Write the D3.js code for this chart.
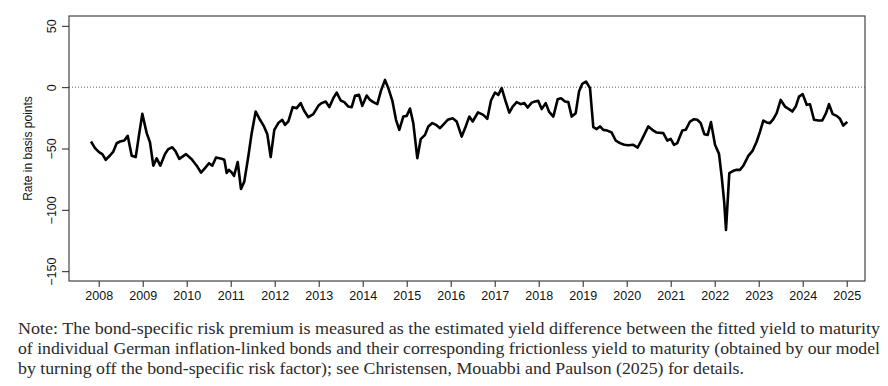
<!DOCTYPE html>
<html>
<head>
<meta charset="utf-8">
<script src="https://cdn.jsdelivr.net/npm/d3@7"></script>
<style>
  body { margin: 0; background: #fff; }
  svg { display: block; }
</style>
</head>
<body>
<svg width="888" height="386"></svg>
<script>
// month (decimal year) and bond-specific risk premium, in basis points
var months = [
  2007.825, 2007.916, 2008.007, 2008.082, 2008.159, 2008.257, 2008.332, 2008.409, 2008.484, 2008.582,
  2008.659, 2008.75, 2008.841, 2008.923, 2008.991, 2009.091, 2009.166, 2009.241, 2009.318, 2009.4,
  2009.507, 2009.582, 2009.673, 2009.75, 2009.832, 2009.984, 2010.114, 2010.227, 2010.325, 2010.416,
  2010.507, 2010.582, 2010.666, 2010.795, 2010.855, 2010.909, 2010.961, 2011.023, 2011.075, 2011.159,
  2011.234, 2011.309, 2011.4, 2011.477, 2011.568, 2011.666, 2011.757, 2011.832, 2011.909, 2011.991,
  2012.082, 2012.173, 2012.234, 2012.309, 2012.409, 2012.5, 2012.591, 2012.666, 2012.764, 2012.877,
  2012.991, 2013.068, 2013.159, 2013.241, 2013.332, 2013.409, 2013.5, 2013.582, 2013.673, 2013.75,
  2013.825, 2013.916, 2013.991, 2014.091, 2014.166, 2014.241, 2014.332, 2014.416, 2014.507, 2014.582,
  2014.673, 2014.757, 2014.832, 2014.923, 2015.0, 2015.075, 2015.15, 2015.241, 2015.318, 2015.416,
  2015.491, 2015.582, 2015.666, 2015.757, 2015.848, 2015.932, 2016.045, 2016.136, 2016.25, 2016.341,
  2016.423, 2016.5, 2016.62, 2016.741, 2016.832, 2016.916, 2017.007, 2017.082, 2017.159, 2017.25,
  2017.332, 2017.409, 2017.5, 2017.591, 2017.673, 2017.75, 2017.841, 2017.916, 2017.991, 2018.068,
  2018.159, 2018.234, 2018.332, 2018.432, 2018.507, 2018.598, 2018.673, 2018.75, 2018.841, 2018.916,
  2018.991, 2019.075, 2019.166, 2019.241, 2019.318, 2019.393, 2019.468, 2019.559, 2019.659, 2019.75,
  2019.848, 2019.945, 2020.036, 2020.15, 2020.25, 2020.341, 2020.491, 2020.582, 2020.682, 2020.832,
  2020.923, 2021.0, 2021.075, 2021.15, 2021.264, 2021.341, 2021.439, 2021.53, 2021.605, 2021.682,
  2021.764, 2021.841, 2021.916, 2022.007, 2022.098, 2022.159, 2022.218, 2022.257, 2022.332, 2022.423,
  2022.5, 2022.575, 2022.65, 2022.764, 2022.864, 2022.955, 2023.03, 2023.105, 2023.182, 2023.257,
  2023.332, 2023.409, 2023.5, 2023.598, 2023.689, 2023.764, 2023.841, 2023.916, 2024.0, 2024.091,
  2024.166, 2024.257, 2024.355, 2024.445, 2024.53, 2024.598, 2024.682, 2024.773, 2024.848, 2024.923,
  2025.014
];
var premium = [
  -44.3, -49.7, -53, -54.6, -59.2, -55.7, -52.5, -45.7, -44.3, -43.5,
  -39.7, -56, -57, -37.5, -21.8, -37.5, -45, -64, -58, -64,
  -54.4, -50.5, -49, -52.5, -58.5, -54.6, -58.7, -64, -69.6, -66,
  -62, -64, -57.4, -58.4, -59.2, -70, -67.4, -69.6, -72.3, -61,
  -83, -77, -56.5, -37.5, -19.9, -26.6, -32, -38.3, -57, -34.8,
  -29.3, -26.6, -30.7, -28, -16.3, -17.1, -13, -19, -24.5, -22,
  -15.2, -13, -11.7, -16.3, -9, -4.4, -10.9, -12.2, -15.8, -16.3,
  -7.1, -6.3, -15.2, -6.8, -10.4, -12.2, -13.9, -2.8, 5.9, -0.8,
  -10.9, -26.6, -34.8, -24, -23.4, -17.4, -29.3, -57.9, -42.4, -38.9,
  -32, -29.3, -30.7, -33.4, -29.9, -26.6, -25.3, -28, -40.3, -32,
  -24, -28, -20.5, -22.6, -25.8, -10.9, -4.4, -6.3, -0.8, -11.7,
  -20.7, -15.8, -12.2, -13.9, -13, -16.6, -12.6, -11.7, -11.2, -17.9,
  -13, -19.9, -24, -9.8, -9, -11.7, -12.2, -24, -21.2, -3.6,
  2.7, 4.6, -0.8, -32.6, -34.2, -32, -34.8, -35.4, -37, -43.5,
  -45.6, -47, -47.3, -47, -49.2, -43, -32, -34.8, -37, -37.5,
  -43.5, -42.1, -47, -45.6, -35.4, -34.8, -28, -26.1, -26.6, -29.3,
  -38.3, -38.9, -28.5, -47, -54.4, -72.9, -94.5, -116.3, -70.1, -68.2,
  -67.4, -67.4, -64.1, -56, -51.7, -44.3, -36.2, -27.2, -28.8, -29.3,
  -26.1, -21.2, -10.4, -15.8, -17.9, -19.9, -15.8, -7.7, -5.7, -14.4,
  -13.9, -26.6, -27.2, -27.2, -21.2, -13.9, -22, -23.4, -25.8, -31.3,
  -28.3
];
var yearTicks = d3.range(2008, 2026);
var yTicks = [-150, -100, -50, 0, 50];
var noteLines = [
  "Note: The bond-specific risk premium is measured as the estimated yield difference between the fitted yield to maturity",
  "of individual German inflation-linked bonds and their corresponding frictionless yield to maturity (obtained by our model",
  "by turning off the bond-specific risk factor); see Christensen, Mouabbi and Paulson (2025) for details."
];
var noteWidths = [862, 862, 726];

var margin = {top: 16, left: 69},
    width = 796,
    height = 265;

var svg = d3.select('svg');
var g = svg.append('g').attr('transform', 'translate(' + margin.left + ',' + margin.top + ')');

var x = d3.scaleLinear().domain([2007.325, 2025.416]).range([0, width]);
var y = d3.scaleLinear().domain([-158, 58]).range([height, 0]);

var fmt = function(d) { return d < 0 ? '\u2212' + Math.abs(d) : String(d); };

// zero reference line
g.append('line')
  .attr('x1', 0).attr('x2', width)
  .attr('y1', y(0)).attr('y2', y(0))
  .attr('stroke', '#333').attr('stroke-width', 0.8)
  .attr('stroke-dasharray', '1,2');

// series
var line = d3.line()
  .x(function(d, i) { return x(months[i]); })
  .y(function(d) { return y(d); });

g.append('path')
  .datum(premium)
  .attr('d', line)
  .attr('fill', 'none')
  .attr('stroke', '#000')
  .attr('stroke-width', 2.6)
  .attr('stroke-linejoin', 'round');

// box
g.append('rect')
  .attr('x', 0).attr('y', 0).attr('width', width).attr('height', height)
  .attr('fill', 'none').attr('stroke', '#444').attr('stroke-width', 1.2);

// x axis
var xAxis = g.append('g')
  .attr('transform', 'translate(0,' + height + ')')
  .call(d3.axisBottom(x).tickValues(yearTicks).tickFormat(d3.format('d')).tickSize(6).tickPadding(4));
xAxis.select('.domain').remove();
xAxis.selectAll('text').attr('font-family', 'Liberation Sans, Arial, sans-serif').attr('font-size', 12.5).attr('fill', '#111');
xAxis.selectAll('line').attr('stroke', '#222');

// y axis
var yAxis = g.append('g')
  .call(d3.axisLeft(y).tickValues(yTicks).tickFormat(fmt).tickSize(7));
yAxis.select('.domain').remove();
yAxis.selectAll('line').attr('stroke', '#222');
yAxis.selectAll('text')
  .attr('x', null).attr('dy', null)
  .attr('text-anchor', 'middle')
  .attr('transform', 'translate(-13,0) rotate(-90)')
  .attr('font-family', 'Liberation Sans, Arial, sans-serif')
  .attr('font-size', 12.5).attr('fill', '#111');

svg.append('text')
  .attr('transform', 'translate(32,' + (margin.top + height / 2) + ') rotate(-90)')
  .attr('text-anchor', 'middle')
  .attr('font-family', 'Liberation Sans, Arial, sans-serif')
  .attr('font-size', 12)
  .attr('fill', '#111')
  .text('Rate in basis points');

// note (narrow serif, squeezed to the original line widths)
svg.selectAll('.note')
  .data(noteLines)
  .enter().append('text')
  .attr('class', 'note')
  .attr('x', 18)
  .attr('y', function(d, i) { return 334 + i * 20; })
  .attr('font-family', 'Liberation Serif, serif')
  .attr('font-size', 17)
  .attr('fill', '#2a2a2a')
  .attr('textLength', function(d, i) { return noteWidths[i]; })
  .attr('lengthAdjust', 'spacingAndGlyphs')
  .text(function(d) { return d; });
</script>
</body>
</html>
